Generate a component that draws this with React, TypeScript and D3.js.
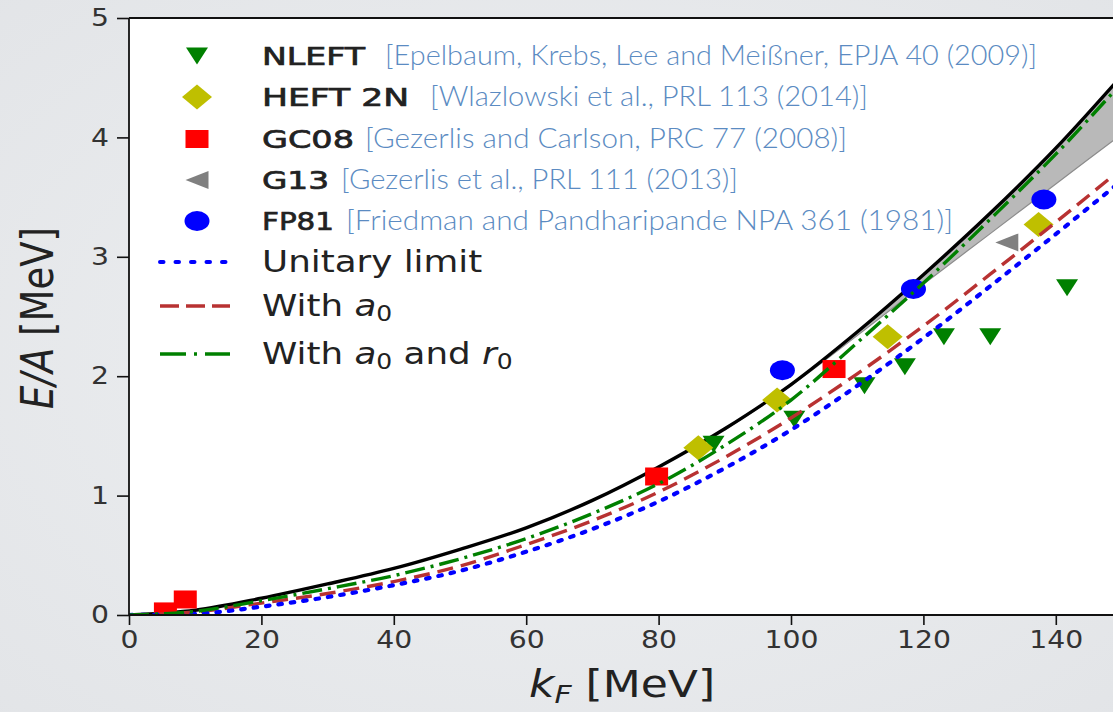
import { useEffect, useRef } from "react"
import * as d3 from "d3"

const W = 1113
const H = 712

// curve samples (kF in MeV, E/A in MeV)
const kGrid = [0, 10, 20, 30, 40, 50, 60, 70, 80, 90, 100, 110, 120, 130, 140, 150]
const freeCurve = [0, 0.04, 0.14, 0.26, 0.39, 0.55, 0.73, 0.96, 1.24, 1.56, 1.93, 2.37, 2.85, 3.36, 3.91, 4.52]
const withA0R0 = [0, 0.03, 0.12, 0.22, 0.33, 0.47, 0.64, 0.85, 1.1, 1.42, 1.8, 2.28, 2.78, 3.31, 3.86, 4.46]
const withA0 = [0, 0.025, 0.1, 0.18, 0.28, 0.41, 0.59, 0.79, 1.03, 1.32, 1.65, 2.02, 2.42, 2.85, 3.29, 3.74]
const unitary = [0, 0.01, 0.07, 0.15, 0.25, 0.37, 0.53, 0.72, 0.95, 1.23, 1.55, 1.92, 2.32, 2.75, 3.19, 3.64]

// grey band
const bandK = [90, 100, 110, 120, 130, 140, 150]
const bandHigh = [1.56, 1.93, 2.37, 2.85, 3.36, 3.91, 4.52]
const bandLow = [1.55, 1.92, 2.34, 2.77, 3.19, 3.61, 4.03]

// data points
const nleftK = [88.3, 100.5, 111.1, 117.2, 123.1, 130.1, 141.7]
const nleftE = [1.43, 1.64, 1.92, 2.08, 2.33, 2.33, 2.74]
const heftK = [86.0, 97.9, 114.6, 137.4]
const heftE = [1.4, 1.8, 2.33, 3.27]
const gc08K = [5.5, 8.5, 79.7, 106.5]
const gc08E = [0.03, 0.13, 1.16, 2.06]
const g13K = [132.6]
const g13E = [3.12]
const fp81K = [98.7, 118.5, 138.2]
const fp81E = [2.05, 2.73, 3.48]

const xTicks = [0, 20, 40, 60, 80, 100, 120, 140]
const yTicks = [0, 1, 2, 3, 4, 5]

const refColor = "#5b8bc2"
const mpl = "DejaVu Sans"
const SX = 1.19

const x = d3.scaleLinear().domain([0, 150]).range([129, 129 + 150 * 6.62])
const y = d3.scaleLinear().domain([0, 5]).range([615, 18])

const zip = (a: number[], b: number[]) => a.map((v, i) => [v, b[i]] as [number, number])

function Marker({ kind, cx, cy }: { kind: string; cx: number; cy: number }) {
  if (kind === "nleft")
    return <path d={`M${cx - 11},${cy - 8.5}L${cx + 11},${cy - 8.5}L${cx},${cy + 8.5}Z`} fill="#008000" />
  if (kind === "heft")
    return <path d={`M${cx - 15},${cy}L${cx},${cy - 12.5}L${cx + 15},${cy}L${cx},${cy + 12.5}Z`} fill="#bfbf00" />
  if (kind === "gc08") return <rect x={cx - 11.5} y={cy - 9} width={23} height={18} fill="#ff0000" />
  if (kind === "g13")
    return <path d={`M${cx - 11.5},${cy}L${cx + 11.5},${cy - 9}L${cx + 11.5},${cy + 9}Z`} fill="#808080" />
  return <ellipse cx={cx} cy={cy} rx={12.5} ry={10} fill="#0000ff" />
}

const legendMarkers = [
  { kind: "nleft", label: "NLEFT", lw: 103, ref: "[Epelbaum, Krebs, Lee and Meißner, EPJA 40 (2009)]", rx: 385, rw: 652, cy: 56 },
  { kind: "heft", label: "HEFT 2N", lw: 147, ref: "[Wlazlowski et al., PRL 113 (2014)]", rx: 430, rw: 438, cy: 97 },
  { kind: "gc08", label: "GC08", lw: 92, ref: "[Gezerlis and Carlson, PRC 77 (2008)]", rx: 365, rw: 482, cy: 139 },
  { kind: "g13", label: "G13", lw: 67, ref: "[Gezerlis et al., PRL 111 (2013)]", rx: 341, rw: 397, cy: 180 },
  { kind: "fp81", label: "FP81", lw: 72, ref: "[Friedman and Pandharipande NPA 361 (1981)]", rx: 346, rw: 607, cy: 221 },
]

const lineStyles = {
  unitary: { stroke: "#0000ff", dash: "3.5 9" },
  a0: { stroke: "#b83232", dash: "16 8" },
  a0r0: { stroke: "#008000", dash: "20 6 3 6" },
}

export default function App() {
  const xAxisRef = useRef<SVGGElement>(null)
  const yAxisRef = useRef<SVGGElement>(null)

  useEffect(() => {
    if (!xAxisRef.current || !yAxisRef.current) return
    const gx = d3.select(xAxisRef.current)
    gx.selectAll("*").remove()
    gx.call(d3.axisBottom(x).tickValues(xTicks).tickSize(10).tickPadding(6).tickFormat(d3.format("d")))
    gx.select(".domain").remove()
    gx.selectAll("line").attr("stroke", "#111").attr("stroke-width", 1.6)
    gx.selectAll("text")
      .attr("font-family", mpl)
      .attr("font-size", 24)
      .attr("fill", "#333")
      .attr("textLength", (d: any) => String(d).length * 18)
      .attr("lengthAdjust", "spacingAndGlyphs")

    const gy = d3.select(yAxisRef.current)
    gy.selectAll("*").remove()
    gy.call(d3.axisLeft(y).tickValues(yTicks).tickSize(12).tickPadding(8).tickFormat(d3.format("d")))
    gy.select(".domain").remove()
    gy.selectAll("line").attr("stroke", "#111").attr("stroke-width", 1.6)
    gy.selectAll("text")
      .attr("font-family", mpl)
      .attr("font-size", 24)
      .attr("fill", "#333")
      .attr("textLength", 18)
      .attr("lengthAdjust", "spacingAndGlyphs")
  }, [])

  const line = d3
    .line<[number, number]>()
    .x((d) => x(d[0]))
    .y((d) => y(d[1]))
    .curve(d3.curveMonotoneX)

  const band = d3
    .area<number>()
    .x((_, i) => x(bandK[i]))
    .y0((_, i) => y(bandLow[i]))
    .y1((d) => y(d))
    .curve(d3.curveMonotoneX)

  const x0 = x(0)
  const x1 = x(150)

  return (
    <div style={{ position: "absolute", left: 0, top: 0 }}>
      <svg width={W} height={H} style={{ display: "block" }}>
        <defs>
          <clipPath id="plot">
            <rect x={x0} y={y(5)} width={x1 - x0} height={y(0) - y(5)} />
          </clipPath>
          <radialGradient id="bg" cx="50%" cy="50%" r="75%">
            <stop offset="0%" stopColor="#eef0f2" />
            <stop offset="100%" stopColor="#e2e4e7" />
          </radialGradient>
        </defs>
        <rect width={W} height={H} fill="url(#bg)" />
        <rect x={x0} y={y(5)} width={x1 - x0} height={y(0) - y(5)} fill="#ffffff" />

        <g clipPath="url(#plot)">
          <path d={band(bandHigh) || ""} fill="#b9b9b9" />
          <path d={line(zip(bandK, bandLow)) || ""} fill="none" stroke="#8c8c8c" strokeWidth={1.2} />
          <path d={line(zip(kGrid, freeCurve)) || ""} fill="none" stroke="#000" strokeWidth={3.4} />

          {nleftK.map((k, i) => <Marker key={"n" + i} kind="nleft" cx={x(k)} cy={y(nleftE[i])} />)}
          {heftK.map((k, i) => <Marker key={"h" + i} kind="heft" cx={x(k)} cy={y(heftE[i])} />)}
          {gc08K.map((k, i) => <Marker key={"g" + i} kind="gc08" cx={x(k)} cy={y(gc08E[i])} />)}
          {g13K.map((k, i) => <Marker key={"t" + i} kind="g13" cx={x(k)} cy={y(g13E[i])} />)}
          {fp81K.map((k, i) => <Marker key={"f" + i} kind="fp81" cx={x(k)} cy={y(fp81E[i])} />)}

          <path d={line(zip(kGrid, withA0)) || ""} fill="none" stroke={lineStyles.a0.stroke} strokeWidth={3.4} strokeDasharray={lineStyles.a0.dash} />
          <path d={line(zip(kGrid, unitary)) || ""} fill="none" stroke={lineStyles.unitary.stroke} strokeWidth={4.2} strokeDasharray={lineStyles.unitary.dash} strokeLinecap="round" />
          <path d={line(zip(kGrid, withA0R0)) || ""} fill="none" stroke={lineStyles.a0r0.stroke} strokeWidth={3.4} strokeDasharray={lineStyles.a0r0.dash} />
        </g>

        {/* spines */}
        <line x1={x0} x2={x0} y1={y(5)} y2={y(0)} stroke="#111" strokeWidth={1.8} />
        <line x1={x0} x2={x1} y1={y(0)} y2={y(0)} stroke="#111" strokeWidth={1.8} />
        <line x1={x0} x2={x1} y1={y(5)} y2={y(5)} stroke="#111" strokeWidth={1.8} />

        <g ref={xAxisRef} transform={`translate(0,${y(0)})`} />
        <g ref={yAxisRef} transform={`translate(${x0},0)`} />

        {/* axis labels */}
        <g transform={`translate(622,697) scale(${SX},1)`}>
          <text fontFamily={mpl} fontSize={37} fill="#222" textAnchor="middle">
            <tspan fontStyle="italic">k</tspan>
            <tspan fontStyle="italic" fontSize={25} dy={6}>F</tspan>
            <tspan dy={-6}> [MeV]</tspan>
          </text>
        </g>
        <g transform={`translate(53,318) scale(${SX},1) rotate(-90)`}>
          <text fontFamily={mpl} fontSize={37} fill="#222" textAnchor="middle">
            <tspan fontStyle="italic">E</tspan>
            <tspan fontStyle="italic">/</tspan>
            <tspan fontStyle="italic">A</tspan>
            <tspan> [MeV]</tspan>
          </text>
        </g>

        {/* legend */}
        {legendMarkers.map((m) => (
          <g key={m.kind}>
            <Marker kind={m.kind} cx={197} cy={m.cy} />
            <text x={262} y={m.cy + 9} fontFamily={mpl} fontSize={25} fill="#222" stroke="#222" strokeWidth={0.7} textLength={m.lw} lengthAdjust="spacingAndGlyphs">
              {m.label}
            </text>
            <text x={m.rx} y={m.cy + 9} fontFamily="Lato" fontWeight={300} fontSize={27} fill={refColor} textLength={m.rw} lengthAdjust="spacingAndGlyphs">
              {m.ref}
            </text>
          </g>
        ))}

        <line x1={160} x2={230} y1={262} y2={262} stroke={lineStyles.unitary.stroke} strokeWidth={4} strokeDasharray="3.5 12" strokeLinecap="round" />
        <line x1={160} x2={230} y1={306} y2={306} stroke={lineStyles.a0.stroke} strokeWidth={3.4} strokeDasharray="19 7" />
        <line x1={160} x2={230} y1={354} y2={354} stroke={lineStyles.a0r0.stroke} strokeWidth={3.4} strokeDasharray="26 8 3 8" />

        <g transform={`translate(262,272) scale(${SX},1)`}>
          <text fontFamily={mpl} fontSize={30} fill="#222">Unitary limit</text>
        </g>
        <g transform={`translate(262,316) scale(${SX},1)`}>
          <text fontFamily={mpl} fontSize={30} fill="#222">
            With <tspan fontStyle="italic">a</tspan>
            <tspan fontSize={21} dy={5}>0</tspan>
          </text>
        </g>
        <g transform={`translate(262,364) scale(${SX},1)`}>
          <text fontFamily={mpl} fontSize={30} fill="#222">
            With <tspan fontStyle="italic">a</tspan>
            <tspan fontSize={21} dy={5}>0</tspan>
            <tspan dy={-5}> and </tspan>
            <tspan fontStyle="italic">r</tspan>
            <tspan fontSize={21} dy={5}>0</tspan>
          </text>
        </g>
      </svg>
    </div>
  )
}
